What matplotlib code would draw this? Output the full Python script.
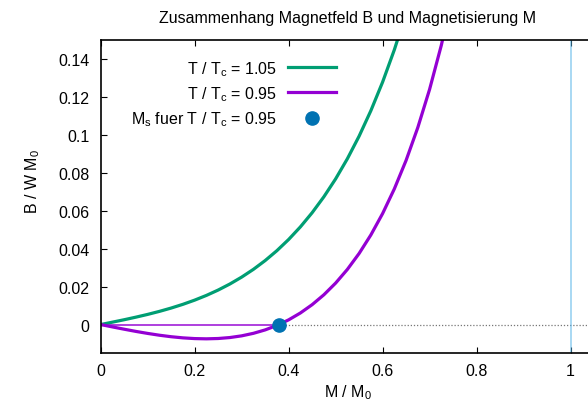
import matplotlib
matplotlib.use('Agg')
import matplotlib.pyplot as plt

plt.rcParams['font.family'] = ['Liberation Sans', 'DejaVu Sans']
plt.rcParams['mathtext.fontset'] = 'custom'
plt.rcParams['mathtext.rm'] = 'Liberation Sans'
plt.rcParams['mathtext.it'] = 'Liberation Sans'
plt.rcParams['font.size'] = 11.5

# Werte: M / M0 und B / W M0
m_hi = [0, 0.025, 0.05, 0.075, 0.1, 0.125, 0.15, 0.175, 0.2, 0.225, 0.25,
        0.275, 0.3, 0.325, 0.35, 0.375, 0.4, 0.425, 0.45, 0.475, 0.5,
        0.525, 0.55, 0.575, 0.6, 0.625, 0.65]
b_hi = [0, 0.00126, 0.00254, 0.0039, 0.00535, 0.00694, 0.0087, 0.01066,
        0.01287, 0.01536, 0.01818, 0.02138, 0.025, 0.02909, 0.03372,
        0.03894, 0.04483, 0.05147, 0.05894, 0.06734, 0.07677, 0.08738,
        0.0993, 0.11271, 0.1278, 0.14483, 0.16406]

m_lo = [0, 0.025, 0.05, 0.075, 0.1, 0.125, 0.15, 0.175, 0.2, 0.225, 0.25,
        0.275, 0.3, 0.325, 0.35, 0.375, 0.4, 0.425, 0.45, 0.475, 0.5,
        0.525, 0.55, 0.575, 0.6, 0.625, 0.65, 0.675, 0.7, 0.725, 0.75]
b_lo = [0, -0.00125, -0.00246, -0.00362, -0.00468, -0.00563, -0.00642,
        -0.00702, -0.0074, -0.00753, -0.00736, -0.00685, -0.00596, -0.00463,
        -0.00283, -0.00048, 0.00247, 0.00609, 0.01047, 0.01568, 0.02184,
        0.02906, 0.03746, 0.04721, 0.05849, 0.07151, 0.08653, 0.10388,
        0.12394, 0.1472, 0.17431]

ms_x = 0.379   # Ms fuer T/Tc = 0.95
ms_y = 0.0

xticks = [0, 0.2, 0.4, 0.6, 0.8, 1]
xtick_labels = ['0', '0.2', '0.4', '0.6', '0.8', '1']
yticks = [0, 0.02, 0.04, 0.06, 0.08, 0.1, 0.12, 0.14]
ytick_labels = ['0', '0.02', '0.04', '0.06', '0.08', '0.1', '0.12', '0.14']

green = '#009e73'
purple = '#9400d3'
blue = '#0072b2'

W, H = 588, 410
fig = plt.figure(figsize=(W / 100, H / 100), dpi=100)
ax = fig.add_axes([100.7 / W, 56 / H, (594 - 100.7) / W, (354 - 41) / H])

ax.set_xlim(0, 1.05)
ax.set_ylim(-0.015, 0.15)

# Nulllinie: magnetisierter Bereich und gepunktete Achse
ax.plot([0, ms_x], [0, 0], color=purple, lw=1.4, alpha=0.75)
ax.plot([ms_x, 1.05], [0, 0], color='#777777', lw=0.9, ls=(0, (1, 1.5)))
ax.axvline(1, color='#56b4e9', lw=1.1, alpha=0.65)

ax.plot(m_hi, b_hi, color=green, lw=2.3, label=r'T / T$_\mathregular{c}$ = 1.05')
ax.plot(m_lo, b_lo, color=purple, lw=2.3, label=r'T / T$_\mathregular{c}$ = 0.95')
ax.plot([ms_x], [ms_y], 'o', color=blue, ms=9.5, ls='none',
        label=r'M$_\mathregular{s}$ fuer T / T$_\mathregular{c}$ = 0.95')

ax.set_xticks(xticks)
ax.set_xticklabels(xtick_labels)
ax.set_yticks(yticks)
ax.set_yticklabels(ytick_labels)
ax.tick_params(direction='in', length=4.5, width=0.8, top=True, right=False)
ax.tick_params(axis='x', pad=7)
ax.tick_params(axis='y', pad=8)
for s in ax.spines.values():
    s.set_linewidth(1.2)

leg = ax.legend(loc='upper right', bbox_to_anchor=(336 / W, 1 - 60 / H),
                bbox_transform=fig.transFigure, frameon=False, markerfirst=False,
                handlelength=3, handletextpad=0.7, labelspacing=0.4,
                borderpad=0, borderaxespad=0, fontsize=11.5)

fig.text(347.5 / W, 1 - 19 / H, 'Zusammenhang Magnetfeld B und Magnetisierung M',
         ha='center', va='center', fontsize=11.5)
fig.text(348 / W, 1 - 393 / H, r'M / M$_\mathregular{0}$', ha='center', va='center')
fig.text(33 / W, 1 - 182 / H, r'B / W M$_\mathregular{0}$', ha='center', va='center',
         rotation=90)

fig.savefig('out.png', dpi=100)
